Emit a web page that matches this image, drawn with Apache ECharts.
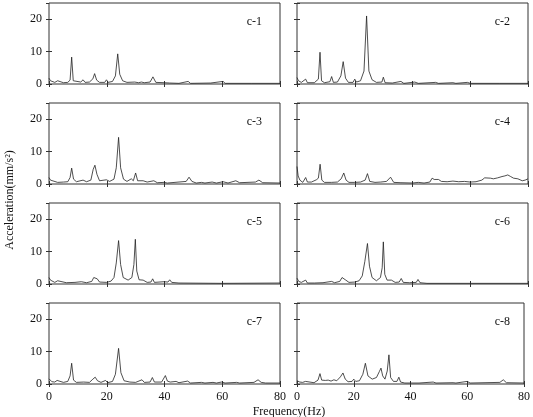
<!DOCTYPE html>
<html>
<head>
<meta charset="utf-8">
<script src="https://cdn.jsdelivr.net/npm/echarts@6/dist/echarts.min.js"></script>
<style>
  html, body { margin: 0; padding: 0; background: #fff; }
  #chart { width: 533px; height: 417px; }
</style>
</head>
<body>
<div id="chart"></div>
<script>
// spectra: [frequency Hz, acceleration mm/s^2]
const panelNames = ['c-1', 'c-2', 'c-3', 'c-4', 'c-5', 'c-6', 'c-7', 'c-8']

const c1 = [[0,1.8],[0.5,1.0],[1,0.6],[2,0.5],[3,1.0],[3.6,0.5],[5,0.4],[6.5,0.5],[7.3,1.2],[7.85,8.3],[8.4,1.0],[9,0.5],[11,0.6],[11.8,1.3],[12.5,0.5],[14,0.6],[15.2,1.6],[15.8,3.2],[16.5,1.2],[17.5,0.5],[19.3,0.5],[19.9,1.3],[20.5,0.5],[22,0.8],[23,2.5],[23.8,9.3],[24.5,3.0],[25.5,1.0],[27,0.5],[29.7,0.6],[31,0.4],[32,0.6],[33,0.4],[35,0.6],[36,2.2],[37,0.5],[39.8,0.4],[41.8,0.3],[45,0.2],[48.2,0.8],[49,0.2],[56,0.3],[60.3,0.8],[61,0.2],[70,0.2],[80,0.2]]
const c2 = [[0,2.0],[0.5,1.0],[1.5,0.5],[3,1.5],[3.6,0.4],[6,0.4],[7.4,1.5],[7.97,9.8],[8.5,1.0],[9.5,0.4],[11.4,0.7],[12,2.3],[12.6,0.5],[14,0.6],[15.2,2.5],[16,6.9],[16.8,1.8],[17.8,0.5],[19.4,0.5],[20,1.5],[20.6,0.6],[22,1.0],[23.2,4.0],[24.1,21.0],[24.9,4.0],[26,1.3],[27.5,0.5],[29.4,0.6],[29.9,2.1],[30.5,0.4],[33,0.3],[36,0.8],[37,0.2],[40.8,0.6],[42,0.2],[48,0.5],[49,0.2],[54,0.4],[55,0.2],[59,0.5],[60,0.2],[70,0.2],[80,0.2]]
const c3 = [[0,2.0],[0.5,1.2],[1,0.7],[3,0.5],[5,0.6],[6.5,0.7],[7.3,2.0],[7.85,4.9],[8.5,1.5],[9.5,0.7],[11.8,1.2],[13,0.7],[14.5,1.2],[15.3,4.5],[15.9,5.8],[16.6,3.0],[17.5,1.0],[19.9,1.3],[21,0.8],[22.5,1.5],[23.3,5.0],[24.1,14.4],[24.8,5.0],[25.8,1.5],[27,0.8],[28.5,1.6],[29.2,1.0],[30,3.4],[30.7,1.0],[32.6,1.0],[34,0.6],[36.3,1.0],[37.5,0.4],[39.8,0.5],[41,0.3],[47.5,0.8],[48.5,2.1],[49.5,0.8],[51,0.3],[52.8,0.5],[54,0.3],[56.5,0.6],[58,0.3],[60.3,0.7],[62,0.3],[64.7,1.0],[66,0.4],[71.5,0.6],[72.7,1.2],[74,0.4],[80,0.3]]
const c4 = [[0,5.4],[0.4,2.5],[1,1.2],[2,0.5],[3,2.0],[3.6,0.6],[5,0.6],[6.7,1.3],[7.4,1.8],[8,6.1],[8.6,1.2],[9.5,0.5],[11.9,0.5],[14,0.6],[15.3,1.6],[16.2,3.4],[17,1.2],[18,0.5],[20,0.5],[22,0.6],[23.6,1.2],[24.4,3.2],[25.2,0.8],[27,0.5],[29,0.6],[31,0.8],[32.4,2.1],[33.5,0.5],[36,0.4],[40,0.3],[42,0.5],[44,0.3],[46,0.6],[46.8,1.8],[47.5,1.4],[48,1.9],[49,1.4],[50,0.8],[52,0.7],[54,0.9],[56,0.7],[58,0.8],[60,0.6],[62,0.7],[64,1.2],[65,1.9],[67,1.8],[68,1.6],[69.5,1.9],[71,2.3],[72,2.5],[73,2.8],[74,2.3],[75,1.8],[76.5,1.6],[78,1.0],[79,1.2],[80,1.6]]
const c5 = [[0,2.0],[0.5,1.2],[1,0.7],[2,0.5],[3,1.0],[3.6,0.4],[6,0.4],[9,0.5],[11.2,0.7],[13,0.4],[14.8,0.8],[15.5,2.0],[16,2.6],[16.7,1.6],[17.5,0.6],[20,0.5],[21.5,0.9],[22.5,2.0],[23.3,6.5],[24.1,13.4],[24.8,6.0],[25.7,2.0],[27.4,1.2],[28.7,2.0],[29.4,6.0],[29.9,13.8],[30.4,4.0],[31.2,1.3],[32.6,1.2],[34,0.5],[35.3,0.6],[35.9,1.6],[36.5,0.5],[39.8,0.7],[41.2,0.6],[41.8,1.3],[42.5,0.5],[45,0.3],[60,0.2],[80,0.3]]
const c6 = [[0,1.8],[0.6,0.8],[1.5,0.5],[3,1.2],[3.6,0.3],[6,0.3],[9,0.4],[12,0.8],[13,0.4],[14.8,0.8],[15.6,2.0],[16.2,2.6],[16.9,1.2],[18,0.5],[20,0.6],[21.5,1.0],[22.6,2.5],[23.5,7.0],[24.4,12.5],[25.1,5.5],[26,2.0],[27.5,1.0],[28.9,2.0],[29.5,5.0],[29.9,13.0],[30.4,3.0],[31.2,1.2],[32.7,1.2],[34,0.5],[35.4,0.6],[36.1,1.7],[36.8,0.5],[39,0.4],[41.3,0.5],[41.9,1.4],[42.6,0.4],[45,0.2],[60,0.2],[80,0.2]]
const c7 = [[0,1.6],[0.5,1.0],[1,0.7],[2,0.6],[2.8,1.1],[3.4,0.5],[5,0.5],[6.5,0.8],[7.3,2.5],[7.85,6.4],[8.5,1.2],[9.5,0.5],[12,0.6],[14,0.5],[15.2,1.5],[16,2.1],[16.8,1.0],[18,0.5],[19.6,1.1],[20.3,0.4],[22,0.8],[23,3.0],[24.1,11.0],[24.9,3.5],[26,1.0],[28,0.6],[30,0.5],[32.2,1.3],[33,0.5],[35,0.6],[35.8,2.0],[36.5,0.6],[39,0.6],[40.3,2.6],[41,0.9],[42,0.6],[44,0.8],[45,0.4],[48,0.9],[49,0.3],[52.8,0.5],[54,0.3],[56.8,0.5],[58,0.3],[59.7,0.6],[61,0.3],[65,0.5],[66,0.3],[71,0.5],[72.4,1.3],[73.5,0.5],[75,0.3],[80,0.3]]
const c8 = [[0,1.0],[1,0.6],[2,0.5],[3,0.8],[3.6,0.3],[6,0.4],[7.4,1.2],[8.1,3.2],[8.7,1.2],[10,1.1],[11,1.2],[12,0.9],[13,1.3],[14,1.0],[15.3,2.2],[16.2,3.4],[17,1.5],[18,0.7],[19.4,0.8],[20,1.5],[20.7,0.8],[22,1.0],[23.2,3.0],[24.1,6.4],[25,2.5],[26.5,1.5],[28,2.0],[29,3.8],[29.6,4.9],[30.2,2.5],[31,1.5],[31.8,4.0],[32.4,9.0],[33,2.0],[34,0.8],[35.2,0.8],[35.9,2.1],[36.5,0.6],[38,0.3],[43,0.3],[48,0.6],[49,0.3],[55,0.4],[56,0.3],[60,0.8],[61,0.3],[71.5,0.5],[72.7,1.3],[73.8,0.4],[80,0.3]]

const panelData = [c1, c2, c3, c4, c5, c6, c7, c8]

const xTicks = [0, 20, 40, 60, 80]
const yTicks = [0, 10, 20]

const FONT = 'Liberation Serif'
const INK = '#222'

// layout
const colLeft = [49, 297]
const rowTop = [3, 103, 203, 303]
const gridW = 231
const gridH = 81

const chart = echarts.init(document.getElementById('chart'))

function buildOption() {
  const grid = []
  const xAxis = []
  const yAxis = []
  const series = []
  const graphic = []

  panelData.forEach((data, i) => {
    const col = i % 2
    const row = Math.floor(i / 2)
    const left = colLeft[col]
    const top = rowTop[row]

    grid.push({
      left, top, width: gridW, height: gridH,
      show: true, borderColor: '#333', borderWidth: 1,
    })

    const tick = { show: true, inside: true, length: 3, lineStyle: { color: '#333', width: 1 } }

    // bottom axis with labels on last row, top axis only for mirrored ticks
    xAxis.push({
      type: 'value', gridIndex: i, position: 'bottom',
      min: 0, max: 80, interval: 20,
      axisLine: { show: false },
      axisTick: tick,
      splitLine: { show: false },
      axisLabel: {
        show: row === 3, margin: 7,
        fontFamily: FONT, fontSize: 12, color: '#111',
      },
    })
    xAxis.push({
      type: 'value', gridIndex: i, position: 'top',
      min: 0, max: 80, interval: 20,
      axisLine: { show: false },
      axisTick: tick,
      splitLine: { show: false },
      axisLabel: { show: false },
    })
    yAxis.push({
      type: 'value', gridIndex: i, position: 'left',
      min: 0, max: 25, interval: 10,
      axisLine: { show: false },
      axisTick: tick,
      splitLine: { show: false },
      axisLabel: {
        show: col === 0, margin: 7, showMaxLabel: false,
        fontFamily: FONT, fontSize: 12, color: '#111',
      },
    })
    yAxis.push({
      type: 'value', gridIndex: i, position: 'right',
      min: 0, max: 25, interval: 10,
      axisLine: { show: false },
      axisTick: tick,
      splitLine: { show: false },
      axisLabel: { show: false },
    })

    series.push({
      type: 'line',
      xAxisIndex: 2 * i,
      yAxisIndex: 2 * i,
      data,
      showSymbol: false,
      lineStyle: { color: INK, width: 0.8 },
    })

    graphic.push({
      type: 'text',
      right: 533 - (left + gridW - 18),
      top: top + 13,
      style: { text: panelNames[i], font: `12px "${FONT}"`, fill: '#111' },
    })
  })

  graphic.push({
    type: 'text',
    x: 10, y: 200, rotation: Math.PI / 2,
    style: {
      text: 'Acceleration(mm/s²)', font: `12px "${FONT}"`, fill: '#111',
      align: 'center', verticalAlign: 'middle',
    },
  })
  graphic.push({
    type: 'text',
    x: 289, y: 412,
    style: {
      text: 'Frequency(Hz)', font: `12px "${FONT}"`, fill: '#111',
      align: 'center', verticalAlign: 'middle',
    },
  })

  return { animation: false, grid, xAxis, yAxis, series, graphic }
}

chart.setOption(buildOption())
</script>
</body>
</html>
